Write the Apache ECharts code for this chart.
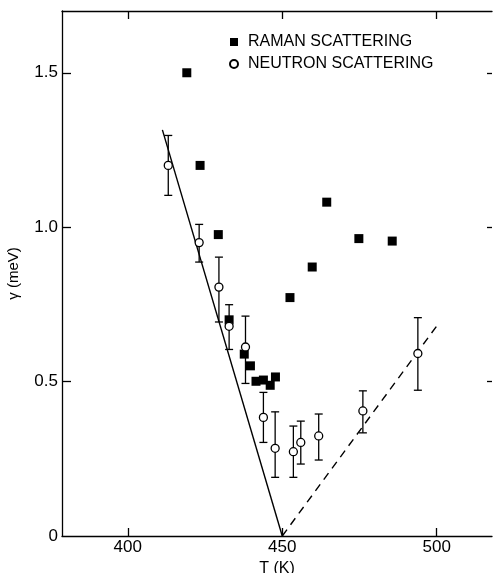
<!DOCTYPE html>
<html lang="en">

<head>
    <meta charset="UTF-8">
    <title>Raman vs neutron linewidth</title>
    <script src="https://cdn.jsdelivr.net/npm/echarts@6/dist/echarts.min.js"></script>
    <style>
        body { margin: 0; background: #fff; }
    </style>
</head>

<body>
    <div id="main" style="width: 493px;height: 573px;"></div>

    <script type="text/javascript">
        // Raman points (filled squares)
        var ramanT = [419.1, 423.4, 429.3, 432.8, 437.7, 439.7, 441.5, 443.9, 446.1, 447.8, 452.5, 459.7, 464.4, 474.8, 485.6];
        var ramanG = [1.50, 1.20, 0.976, 0.70, 0.589, 0.551, 0.501, 0.505, 0.488, 0.515, 0.772, 0.871, 1.081, 0.963, 0.955];

        // neutron points (open circles) with error bar bounds
        var neutronT = [413.1, 423.1, 429.5, 432.8, 438.1, 443.9, 447.7, 453.6, 456.0, 461.8, 476.1, 493.9];
        var neutronG = [1.20, 0.950, 0.806, 0.679, 0.612, 0.384, 0.284, 0.273, 0.303, 0.324, 0.405, 0.591];
        var neutronLo = [1.103, 0.887, 0.693, 0.604, 0.494, 0.303, 0.190, 0.190, 0.233, 0.246, 0.334, 0.472];
        var neutronHi = [1.297, 1.009, 0.903, 0.749, 0.712, 0.465, 0.402, 0.356, 0.372, 0.395, 0.470, 0.707];

        // guide lines
        var solidT = [411.2, 450];
        var solidG = [1.315, 0];
        var dashT = [450, 500];
        var dashG = [0, 0.68];

        var xTicks = [400, 450, 500];
        var yTicks = [0, 0.5, 1.0, 1.5];

        function zip(a, b) {
            return a.map(function (v, i) { return [v, b[i]]; });
        }

        var font = 'Liberation Sans';
        var ink = '#000';
        var myChart = echarts.init(document.getElementById('main'));

        var option = {
            animation: false,
            backgroundColor: '#fff',
            grid: { left: 62, top: 11, width: 430, height: 525, outerBoundsMode: 'none' },
            legend: {
                orient: 'vertical',
                left: 229,
                top: 34,
                padding: 0,
                itemGap: 6,
                itemWidth: 8,
                itemHeight: 8,
                data: ['RAMAN SCATTERING', 'NEUTRON SCATTERING'],
                textStyle: { fontFamily: font, fontSize: 16, color: ink, padding: [0, 0, 0, 5] }
            },
            xAxis: [{
                type: 'value',
                min: 378.7,
                max: 517.9,
                name: 'T (K)',
                nameLocation: 'middle',
                nameGap: 21,
                nameTextStyle: { fontFamily: font, fontSize: 16, color: ink },
                splitLine: { show: false },
                axisLine: { onZero: false, lineStyle: { color: ink, width: 1.3 } },
                axisTick: { inside: true, length: 8, customValues: xTicks, lineStyle: { color: ink, width: 1.3 } },
                axisLabel: { customValues: xTicks, fontFamily: font, fontSize: 17, color: ink, margin: 3 }
            }, {
                type: 'value',
                position: 'top',
                min: 378.7,
                max: 517.9,
                splitLine: { show: false },
                axisLine: { onZero: false, lineStyle: { color: ink, width: 1.3 } },
                axisTick: { show: true, inside: true, length: 8, customValues: xTicks, lineStyle: { color: ink, width: 1.3 } },
                axisLabel: { show: false }
            }],
            yAxis: [{
                type: 'value',
                min: 0,
                max: 1.7,
                name: 'γ (meV)',
                nameLocation: 'middle',
                nameGap: 41,
                nameTextStyle: { fontFamily: font, fontSize: 15, color: ink },
                splitLine: { show: false },
                axisLine: { onZero: false, lineStyle: { color: ink, width: 1.3 } },
                axisTick: { inside: true, length: 9, customValues: [0.5, 1.0, 1.5], lineStyle: { color: ink, width: 1.3 } },
                axisLabel: {
                    customValues: yTicks,
                    fontFamily: font, fontSize: 17, color: ink, margin: 4,
                    formatter: function (v) { return v === 0 ? '0' : v.toFixed(1); }
                }
            }, {
                type: 'value',
                position: 'right',
                min: 0,
                max: 1.7,
                splitLine: { show: false },
                axisLine: { show: false, onZero: false },
                axisTick: { show: true, inside: true, length: 5, customValues: [0.5, 1.0, 1.5], lineStyle: { color: ink, width: 1.3 } },
                axisLabel: { show: false }
            }],
            series: [{
                name: 'solid',
                type: 'line',
                data: zip(solidT, solidG),
                symbol: 'none',
                lineStyle: { color: ink, width: 1.4 },
                z: 1
            }, {
                name: 'dashed',
                type: 'line',
                data: zip(dashT, dashG),
                symbol: 'none',
                lineStyle: { color: ink, width: 1.4, type: [8, 6] },
                z: 1
            }, {
                name: 'errors',
                type: 'custom',
                data: neutronT.map(function (t, i) { return [t, neutronLo[i], neutronHi[i]]; }),
                renderItem: function (params, api) {
                    var lo = api.coord([api.value(0), api.value(1)]);
                    var hi = api.coord([api.value(0), api.value(2)]);
                    var w = 4;
                    var st = { stroke: ink, lineWidth: 1.3 };
                    return {
                        type: 'group',
                        children: [
                            { type: 'line', shape: { x1: lo[0], y1: lo[1], x2: hi[0], y2: hi[1] }, style: st },
                            { type: 'line', shape: { x1: lo[0] - w, y1: lo[1], x2: lo[0] + w, y2: lo[1] }, style: st },
                            { type: 'line', shape: { x1: hi[0] - w, y1: hi[1], x2: hi[0] + w, y2: hi[1] }, style: st }
                        ]
                    };
                },
                z: 2
            }, {
                name: 'RAMAN SCATTERING',
                type: 'scatter',
                data: zip(ramanT, ramanG),
                symbol: 'rect',
                symbolSize: 9,
                itemStyle: { color: ink, opacity: 1 },
                z: 3
            }, {
                name: 'NEUTRON SCATTERING',
                type: 'scatter',
                data: zip(neutronT, neutronG),
                symbol: 'circle',
                symbolSize: 8,
                itemStyle: { color: '#fff', borderColor: ink, borderWidth: 1.3, opacity: 1 },
                z: 4
            }]
        };

        myChart.setOption(option);
    </script>
</body>

</html>
